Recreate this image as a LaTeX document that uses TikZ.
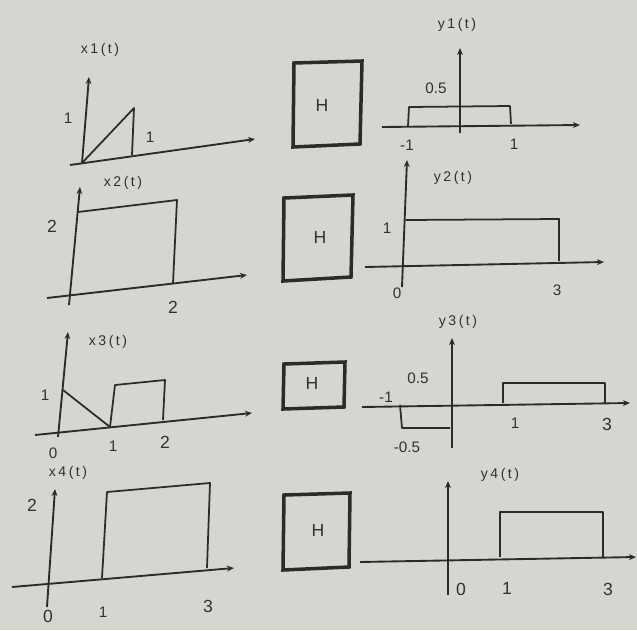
\documentclass[tikz,border=0pt]{standalone}
\usepackage{fontspec}
\setmainfont{Liberation Sans}
\newfontfamily\widefont[LetterSpace=18]{Liberation Sans}
\usetikzlibrary{arrows.meta}
\definecolor{paper}{HTML}{D6D6D1}
\definecolor{ink}{HTML}{2B2B2B}
\definecolor{txt}{HTML}{303030}
\tikzset{
  axis/.style={draw=ink, line width=1.6pt, -{Stealth[length=6pt,width=5pt]}},
  sig/.style={draw=ink, line width=1.5pt, line join=round},
  hbox/.style={draw=ink, line width=3pt, line join=miter},
  lbl/.style={text=txt, font=\widefont\fontsize{12}{14}\selectfont, inner sep=0pt},
  num/.style={text=txt, font=\fontsize{13}{15}\selectfont, inner sep=0pt},
  bignum/.style={text=txt, font=\fontsize{15}{17}\selectfont, inner sep=0pt},
  hlbl/.style={text=txt, font=\fontsize{15}{17}\selectfont, inner sep=0pt}
}
\begin{document}
\begin{tikzpicture}[x=0.03cm, y=-0.03cm]
\fill[paper] (0,0) rectangle (637,630);
\useasboundingbox (0,0) rectangle (637,630);

% ---------------- Row 1 ----------------
\coordinate (a1o) at (82,163);
\coordinate (a1t) at (89,77);
\coordinate (a1l) at (70,165);
\coordinate (a1r) at (255,139);
\draw[axis] (a1o) -- (a1t);
\draw[axis] (a1l) -- (a1r);
\coordinate (t1a) at (134,108);
\coordinate (t1b) at (132,155);
\draw[sig] (a1o) -- (t1a) -- (t1b);
\node[num] (x1one) at (68,118) {1};
\node[num] (x1onet) at (150,137) {1};
\node[lbl] (x1lab) at (100,50) {x1(t)};

\draw[hbox] (294,63) -- (362,61) -- (360,144) -- (293,147) -- cycle;
\node[hlbl] (h1) at (322,105) {H};

\coordinate (b1b) at (460,133);
\coordinate (b1t) at (460,48);
\coordinate (b1l) at (382,127);
\coordinate (b1r) at (580,125);
\draw[axis] (b1b) -- (b1t);
\draw[axis] (b1l) -- (b1r);
\draw[sig] (408,126) -- (409,107) -- (510,106) -- (511,124);
\node[num] (y1half) at (436,88) {0.5};
\node[num] (y1m1) at (407,145) {-1};
\node[num] (y1p1) at (514,144) {1};
\node[lbl] (y1lab) at (457,25) {y1(t)};

% ---------------- Row 2 ----------------
\coordinate (a2b) at (69,305);
\coordinate (a2t) at (80,187);
\coordinate (a2l) at (47,298);
\coordinate (a2r) at (247,275);
\draw[axis] (a2b) -- (a2t);
\draw[axis] (a2l) -- (a2r);
\draw[sig] (78,212) -- (177,200) -- (173,283);
\node[bignum] (x2two) at (52,226) {2};
\node[bignum] (x2twot) at (173,307) {2};
\node[lbl] (x2lab) at (123,183) {x2(t)};

\draw[hbox] (284,198) -- (353,195) -- (351,277) -- (283,281) -- cycle;
\node[hlbl] (h2) at (320,237) {H};

\coordinate (b2b) at (402,287);
\coordinate (b2t) at (407,160);
\coordinate (b2l) at (365,267);
\coordinate (b2r) at (604,262);
\draw[axis] (b2b) -- (b2t);
\draw[axis] (b2l) -- (b2r);
\draw[sig] (406,220) -- (559,219) -- (559,261);
\node[num] (y2one) at (387,228) {1};
\node[num] (y2zero) at (397,293) {0};
\node[num] (y2three) at (557,290) {3};
\node[lbl] (y2lab) at (453,178) {y2(t)};

% ---------------- Row 3 ----------------
\coordinate (a3b) at (58,437);
\coordinate (a3t) at (68,332);
\coordinate (a3l) at (35,435);
\coordinate (a3r) at (252,413);
\draw[axis] (a3b) -- (a3t);
\draw[axis] (a3l) -- (a3r);
\draw[sig] (63,390) -- (110,427) -- (115,385) -- (165,380) -- (163,420);
\node[num] (x3one) at (45,395) {1};
\node[num] (x3zero) at (53,453) {0};
\node[num] (x3onet) at (113,446) {1};
\node[bignum] (x3two) at (165,442) {2};
\node[lbl] (x3lab) at (108,342) {x3(t)};

\draw[hbox] (284,364) -- (345,362) -- (344,407) -- (283,409) -- cycle;
\node[hlbl] (h3) at (312,383) {H};

\coordinate (b3b) at (452,448);
\coordinate (b3t) at (452,338);
\coordinate (b3l) at (362,407);
\coordinate (b3r) at (630,403);
\draw[axis] (b3b) -- (b3t);
\draw[axis] (b3l) -- (b3r);
\draw[sig] (400,405) -- (402,428) -- (450,428);
\draw[sig] (503,403) -- (503,383) -- (605,383) -- (605,403);
\node[num] (y3m1) at (386,397) {-1};
\node[num] (y3half) at (418,378) {0.5};
\node[num] (y3mhalf) at (407,447) {-0.5};
\node[num] (y3one) at (515,423) {1};
\node[bignum] (y3three) at (607,424) {3};
\node[lbl] (y3lab) at (458,322) {y3(t)};

% ---------------- Row 4 ----------------
\coordinate (a4b) at (47,607);
\coordinate (a4t) at (55,489);
\coordinate (a4l) at (12,587);
\coordinate (a4r) at (234,568);
\draw[axis] (a4b) -- (a4t);
\draw[axis] (a4l) -- (a4r);
\draw[sig] (102,578) -- (107,492) -- (210,483) -- (207,568);
\node[bignum] (x4two) at (32,505) {2};
\node[bignum] (x4zero) at (48,616) {0};
\node[num] (x4one) at (103,612) {1};
\node[bignum] (x4three) at (208,606) {3};
\node[lbl] (x4lab) at (68,473) {x4(t)};

\draw[hbox] (284,495) -- (350,493) -- (349,567) -- (283,570) -- cycle;
\node[hlbl] (h4) at (318,530) {H};

\coordinate (b4b) at (448,595);
\coordinate (b4t) at (448,481);
\coordinate (b4l) at (360,562);
\coordinate (b4r) at (636,557);
\draw[axis] (b4b) -- (b4t);
\draw[axis] (b4l) -- (b4r);
\draw[sig] (500,557) -- (500,512) -- (603,512) -- (603,557);
\node[bignum] (y4zero) at (461,589) {0};
\node[bignum] (y4one) at (507,588) {1};
\node[bignum] (y4three) at (608,589) {3};
\node[lbl] (y4lab) at (500,475) {y4(t)};
\end{tikzpicture}
\end{document}
